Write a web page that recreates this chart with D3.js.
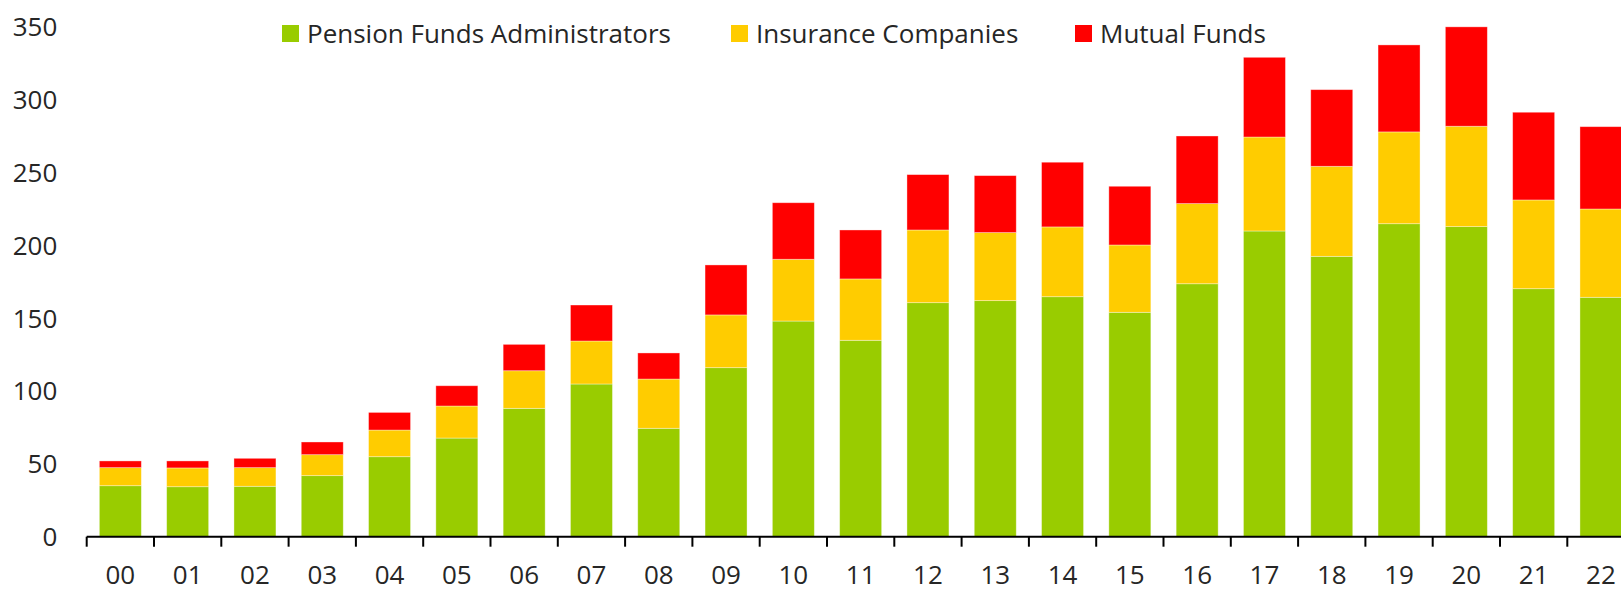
<!DOCTYPE html>
<html>
<head>
<meta charset="utf-8">
<script src="https://cdn.jsdelivr.net/npm/d3@7"></script>
<style>
  body { margin: 0; background: #fff; overflow: hidden; }
  svg { display: block; }
  text { font-family: "Open Sans", sans-serif; fill: #262626; }
</style>
</head>
<body>
<svg id="chart" width="1621" height="591"></svg>
<script>
// years (two digit labels)
var years = ["00","01","02","03","04","05","06","07","08","09","10","11",
             "12","13","14","15","16","17","18","19","20","21","22"];

var pension   = [35.0, 34.3, 34.6, 41.9, 54.9, 67.7, 88.1, 104.8, 74.4, 116.0, 148.0, 134.8,
                 160.6, 162.0, 164.7, 154.0, 173.6, 209.8, 192.4, 214.8, 212.8, 170.2, 164.3];
var insurance = [12.4, 12.9, 12.8, 14.4, 18.3, 22.0, 25.8, 29.5, 33.8, 36.2, 42.4, 42.1,
                 49.9, 46.7, 47.9, 46.2, 55.0, 64.5, 61.8, 63.0, 68.9, 60.9, 60.6];
var mutual    = [4.6, 4.8, 6.4, 8.7, 12.1, 13.9, 18.1, 24.7, 17.9, 34.3, 38.8, 33.6,
                 38.0, 39.1, 44.4, 40.3, 46.4, 54.7, 52.6, 59.7, 68.2, 60.2, 56.5];

var seriesNames  = ["Pension Funds Administrators", "Insurance Companies", "Mutual Funds"];
var seriesKeys   = ["pension", "insurance", "mutual"];
var seriesColors = ["#99cc00", "#ffcc00", "#ff0000"];
var yTicks = [0, 50, 100, 150, 200, 250, 300, 350];

var rows = years.map(function(y, i) {
  return { year: y, pension: pension[i], insurance: insurance[i], mutual: mutual[i] };
});

var svg = d3.select("#chart");

var x0 = 86.7, step = 67.3;
var x = d3.scaleBand()
  .domain(years)
  .range([x0, x0 + step * years.length])
  .paddingInner(0.376)
  .paddingOuter(0.188);

var y = d3.scaleLinear().domain([0, 350]).range([536.7, 26.7]);

var color = d3.scaleOrdinal().domain(seriesKeys).range(seriesColors);

var stacked = d3.stack().keys(seriesKeys)(rows);

// bars
svg.append("g").selectAll("g")
  .data(stacked)
  .enter().append("g")
  .attr("fill", function(d) { return color(d.key); })
  .selectAll("rect")
  .data(function(d) { return d; })
  .enter().append("rect")
  .attr("x", function(d) { return x(d.data.year); })
  .attr("y", function(d) { return y(d[1]); })
  .attr("width", x.bandwidth())
  .attr("height", function(d) { return y(d[0]) - y(d[1]); })
  .attr("stroke", "rgba(255,255,255,0.45)")
  .attr("stroke-width", 0.8);

// x axis line + boundary ticks
var gap = (x.step() - x.bandwidth()) / 2;
var bounds = years.map(function(c) { return x(c) - gap; });
bounds.push(x(years[years.length - 1]) + x.bandwidth() + gap);

var xa = svg.append("g");
xa.append("line")
  .attr("x1", x.range()[0]).attr("x2", x.range()[1])
  .attr("y1", y(0)).attr("y2", y(0))
  .attr("stroke", "#000").attr("stroke-width", 2);
xa.selectAll(".tk")
  .data(bounds)
  .enter().append("line")
  .attr("x1", function(d) { return d; })
  .attr("x2", function(d) { return d; })
  .attr("y1", y(0)).attr("y2", y(0) + 10)
  .attr("stroke", "#000").attr("stroke-width", 2);
xa.selectAll(".lbl")
  .data(years)
  .enter().append("text")
  .attr("x", function(d) { return x(d) + x.bandwidth() / 2; })
  .attr("y", 584)
  .attr("text-anchor", "middle")
  .attr("font-size", 26)
  .text(function(d) { return d; });

// y labels (no axis line)
svg.append("g").selectAll("text")
  .data(yTicks)
  .enter().append("text")
  .attr("x", 57.3)
  .attr("y", function(d) { return y(d) + 9.5; })
  .attr("text-anchor", "end")
  .attr("font-size", 26)
  .text(function(d) { return d; });

// legend
var legendX = [282, 731, 1075];
var lg = svg.append("g").selectAll("g")
  .data(seriesNames)
  .enter().append("g")
  .attr("transform", function(d, i) { return "translate(" + legendX[i] + ",0)"; });
lg.append("rect")
  .attr("x", 0).attr("y", 25)
  .attr("width", 17).attr("height", 17)
  .attr("fill", function(d, i) { return seriesColors[i]; });
lg.append("text")
  .attr("x", 25).attr("y", 42.5)
  .attr("font-size", 26)
  .text(function(d) { return d; });
</script>
</body>
</html>
